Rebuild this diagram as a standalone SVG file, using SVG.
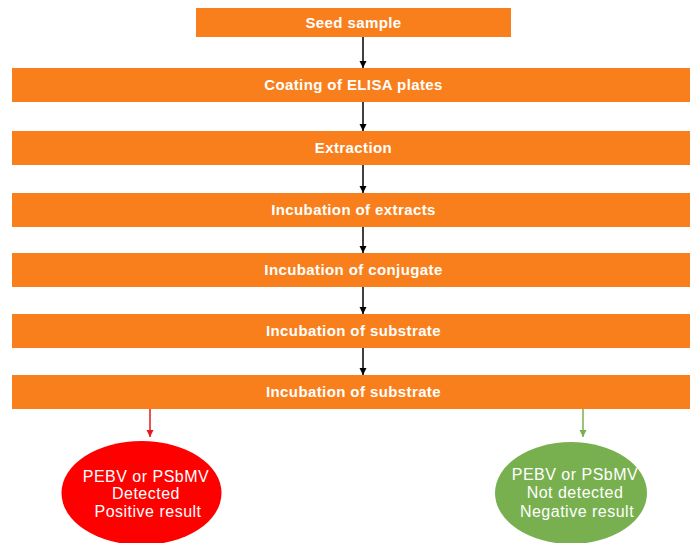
<svg xmlns="http://www.w3.org/2000/svg" width="690" height="543" viewBox="0 0 690 543">
<style>
.box{fill:#F97F1C}
.bt{font-family:"Liberation Sans",Arial,sans-serif;font-size:15px;font-weight:bold;fill:#fff;text-anchor:middle;letter-spacing:0.4px}
.et{font-family:"Liberation Sans",Arial,sans-serif;font-size:16px;fill:#fff;text-anchor:middle;letter-spacing:0.5px}
.ln{stroke:#000;stroke-width:1.5;fill:none}
</style>
<defs>
<marker id="ab" viewBox="0 0 8 8" refX="8" refY="4" markerWidth="5" markerHeight="5" markerUnits="strokeWidth" orient="auto"><path d="M0,0L8,4L0,8z" fill="#000"/></marker>
<marker id="ar" viewBox="0 0 8 8" refX="8" refY="4" markerWidth="5" markerHeight="5" markerUnits="strokeWidth" orient="auto"><path d="M0,0L8,4L0,8z" fill="#E8161E"/></marker>
<marker id="ag" viewBox="0 0 8 8" refX="8" refY="4" markerWidth="5" markerHeight="5" markerUnits="strokeWidth" orient="auto"><path d="M0,0L8,4L0,8z" fill="#78B050"/></marker>
</defs>
<rect width="690" height="543" fill="#fff"/>
<g id="n1"><rect class="box" x="196" y="8" width="315" height="29"/><text class="bt" x="353.5" y="28">Seed sample</text></g>
<g id="n2"><rect class="box" x="12" y="68" width="683" height="34"/><text class="bt" x="353.5" y="90">Coating of ELISA plates</text></g>
<g id="n3"><rect class="box" x="12" y="131" width="683" height="34"/><text class="bt" x="353.5" y="153">Extraction</text></g>
<g id="n4"><rect class="box" x="12" y="193" width="683" height="34"/><text class="bt" x="353.5" y="215">Incubation of extracts</text></g>
<g id="n5"><rect class="box" x="12" y="253" width="683" height="34"/><text class="bt" x="353.5" y="275">Incubation of conjugate</text></g>
<g id="n6"><rect class="box" x="12" y="314" width="683" height="34"/><text class="bt" x="353.5" y="336">Incubation of substrate</text></g>
<g id="n7"><rect class="box" x="12" y="375" width="683" height="34"/><text class="bt" x="353.5" y="397">Incubation of substrate</text></g>
<g id="pos"><ellipse cx="141.5" cy="493" rx="80" ry="52" fill="#FF0000"/>
<text class="et" x="146" y="482">PEBV or PSbMV</text>
<text class="et" x="146" y="499">Detected</text>
<text class="et" x="148" y="517">Positive result</text></g>
<g id="neg"><ellipse cx="571" cy="493" rx="76" ry="51" fill="#78B050"/>
<text class="et" x="575" y="480">PEBV or PSbMV</text>
<text class="et" x="575" y="498">Not detected</text>
<text class="et" x="577" y="517">Negative result</text></g>
<g id="connectors">
<line class="ln" x1="363" y1="37" x2="363" y2="68" marker-end="url(#ab)"/>
<line class="ln" x1="363" y1="102" x2="363" y2="131" marker-end="url(#ab)"/>
<line class="ln" x1="363" y1="165" x2="363" y2="193" marker-end="url(#ab)"/>
<line class="ln" x1="363" y1="227" x2="363" y2="253" marker-end="url(#ab)"/>
<line class="ln" x1="363" y1="287" x2="363" y2="314" marker-end="url(#ab)"/>
<line class="ln" x1="363" y1="348" x2="363" y2="375" marker-end="url(#ab)"/>
<line x1="150" y1="409" x2="150" y2="437" stroke="#E8161E" stroke-width="1.5" marker-end="url(#ar)"/>
<line x1="583" y1="409" x2="583" y2="437" stroke="#78B050" stroke-width="1.5" marker-end="url(#ag)"/>
</g>
</svg>
